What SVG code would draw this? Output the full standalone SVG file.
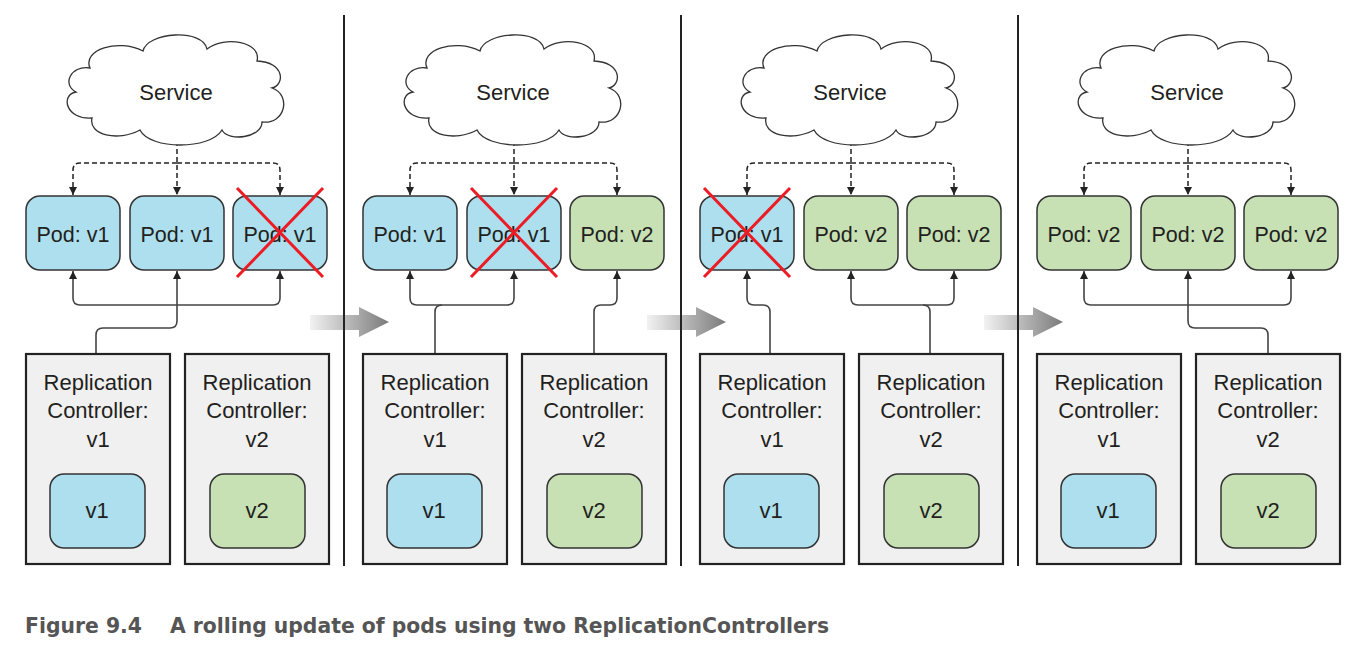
<svg xmlns="http://www.w3.org/2000/svg" width="1350" height="648" viewBox="0 0 1350 648">
<style>
.t{font-family:"Liberation Sans",Arial,sans-serif;font-size:22px;fill:#231f20;text-anchor:middle}
.p{font-size:21.5px}
.cloud{fill:#fff;stroke:#333;stroke-width:1.3}
.pod1{fill:#addfee;stroke:#333;stroke-width:1.5}
.pod2{fill:#c7e1b5;stroke:#333;stroke-width:1.5}
.rc{fill:#f0f0f0;stroke:#222;stroke-width:2.2}
.x{stroke:#ed1c24;stroke-width:3;fill:none}
.dash{fill:none;stroke:#222;stroke-width:1.5;stroke-dasharray:5 3}
.sol{fill:none;stroke:#444;stroke-width:1.6}
.sep{stroke:#222;stroke-width:2}
.cap{font-family:"Liberation Sans Narrow","DejaVu Sans Condensed","Liberation Sans",sans-serif;font-weight:bold;font-size:22px;fill:#555}
</style>
<defs>
<marker id="ah" viewBox="0 0 10 10" refX="10" refY="5" markerWidth="8" markerHeight="8" markerUnits="userSpaceOnUse" orient="auto">
<path d="M0,0 L10,5 L0,10 Z" fill="#222"/>
</marker>
<linearGradient id="ga" x1="0" y1="0" x2="1" y2="0">
<stop offset="0" stop-color="#f2f2f2"/>
<stop offset="1" stop-color="#7a7a7a"/>
</linearGradient>
<path id="cloudp" d="M90,68 C82,50 118,38 143,51 C147,32 203,28 207,49 C225,35 262,42 257,61 C285,62 285,85 272,88 C292,95 285,125 262,122 C262,138 228,142 222,130 C210,150 150,150 140,130 C118,142 88,135 92,118 C66,120 60,95 76,92 C62,85 70,65 90,68 Z"/>
<polygon id="garrow" points="310,315 359,315 359,307 389,322 359,337 359,330 310,330" fill="url(#ga)"/>
</defs>

<!-- gray transition arrows -->
<g id="transitions">
<use href="#garrow"/>
<use href="#garrow" x="337"/>
<use href="#garrow" x="674"/>
</g>

<!-- separators -->
<g id="separators">
<line class="sep" x1="344" y1="15" x2="344" y2="566"/>
<line class="sep" x1="681" y1="15" x2="681" y2="566"/>
<line class="sep" x1="1018" y1="15" x2="1018" y2="566"/>
</g>

<!-- connectors -->
<g id="connectors">
<g transform="translate(0,0)">
<path class="dash" d="M177,141 V195" marker-end="url(#ah)"/>
<path class="dash" d="M177,163 H80 Q73,163 73,170 V195" marker-end="url(#ah)"/>
<path class="dash" d="M177,163 H273 Q280,163 280,170 V195" marker-end="url(#ah)"/>
<path class="sol" d="M177,305 H80 Q73,305 73,298 V271" marker-end="url(#ah)"/>
<path class="sol" d="M177,305 H273 Q280,305 280,298 V271" marker-end="url(#ah)"/>
<path class="sol" d="M96,353 V335 Q96,328 103,328 H170 Q177,328 177,321 V271" marker-end="url(#ah)"/>
</g>
<g transform="translate(337,0)">
<path class="dash" d="M177,141 V195" marker-end="url(#ah)"/>
<path class="dash" d="M177,163 H80 Q73,163 73,170 V195" marker-end="url(#ah)"/>
<path class="dash" d="M177,163 H273 Q280,163 280,170 V195" marker-end="url(#ah)"/>
<path class="sol" d="M98,305 H80 Q73,305 73,298 V271" marker-end="url(#ah)"/>
<path class="sol" d="M98,305 H170 Q177,305 177,298 V271" marker-end="url(#ah)"/>
<path class="sol" d="M98,353 V312 Q98,305 105,305"/>
<path class="sol" d="M257,353 V312 Q257,305 264,305 H273 Q280,305 280,298 V271" marker-end="url(#ah)"/>
</g>
<g transform="translate(674,0)">
<path class="dash" d="M177,141 V195" marker-end="url(#ah)"/>
<path class="dash" d="M177,163 H80 Q73,163 73,170 V195" marker-end="url(#ah)"/>
<path class="dash" d="M177,163 H273 Q280,163 280,170 V195" marker-end="url(#ah)"/>
<path class="sol" d="M96,353 V312 Q96,305 89,305 H80 Q73,305 73,298 V271" marker-end="url(#ah)"/>
<path class="sol" d="M256,305 H184 Q177,305 177,298 V271" marker-end="url(#ah)"/>
<path class="sol" d="M256,305 H273 Q280,305 280,298 V271" marker-end="url(#ah)"/>
<path class="sol" d="M256,353 V312 Q256,305 249,305"/>
</g>
<g transform="translate(1011,0)">
<path class="dash" d="M177,141 V195" marker-end="url(#ah)"/>
<path class="dash" d="M177,163 H80 Q73,163 73,170 V195" marker-end="url(#ah)"/>
<path class="dash" d="M177,163 H273 Q280,163 280,170 V195" marker-end="url(#ah)"/>
<path class="sol" d="M177,305 H80 Q73,305 73,298 V271" marker-end="url(#ah)"/>
<path class="sol" d="M177,305 H273 Q280,305 280,298 V271" marker-end="url(#ah)"/>
<path class="sol" d="M257,353 V335 Q257,328 250,328 H184 Q177,328 177,321 V271" marker-end="url(#ah)"/>
</g>
</g>

<!-- Panel 1 -->
<g id="p1-service"><use href="#cloudp" class="cloud"/><text class="t" x="176" y="100">Service</text></g>
<g id="p1-pod1"><rect class="pod1" x="26" y="196" width="94" height="74" rx="14"/><text class="t p" x="73" y="242">Pod: v1</text></g>
<g id="p1-pod2"><rect class="pod1" x="130" y="196" width="94" height="74" rx="14"/><text class="t p" x="177" y="242">Pod: v1</text></g>
<g id="p1-pod3"><rect class="pod1" x="233" y="196" width="94" height="74" rx="14"/><text class="t p" x="280" y="242">Pod: v1</text><path class="x" d="M237,188 L323,277 M323,188 L237,277"/></g>
<g id="p1-rc1"><rect class="rc" x="26" y="354" width="144" height="210"/><text class="t" x="98" y="390">Replication</text><text class="t" x="98" y="418">Controller:</text><text class="t" x="98" y="447">v1</text><rect class="pod1" x="50" y="474" width="95" height="74" rx="14"/><text class="t" x="97" y="518">v1</text></g>
<g id="p1-rc2"><rect class="rc" x="185" y="354" width="144" height="210"/><text class="t" x="257" y="390">Replication</text><text class="t" x="257" y="418">Controller:</text><text class="t" x="257" y="447">v2</text><rect class="pod2" x="210" y="474" width="95" height="74" rx="14"/><text class="t" x="257" y="518">v2</text></g>

<!-- Panel 2 -->
<g id="p2-service" transform="translate(337,0)"><use href="#cloudp" class="cloud"/><text class="t" x="176" y="100">Service</text></g>
<g id="p2-pod1" transform="translate(337,0)"><rect class="pod1" x="26" y="196" width="94" height="74" rx="14"/><text class="t p" x="73" y="242">Pod: v1</text></g>
<g id="p2-pod2" transform="translate(337,0)"><rect class="pod1" x="130" y="196" width="94" height="74" rx="14"/><text class="t p" x="177" y="242">Pod: v1</text><path class="x" d="M134,188 L220,277 M220,188 L134,277"/></g>
<g id="p2-pod3" transform="translate(337,0)"><rect class="pod2" x="233" y="196" width="94" height="74" rx="14"/><text class="t p" x="280" y="242">Pod: v2</text></g>
<g id="p2-rc1" transform="translate(337,0)"><rect class="rc" x="26" y="354" width="144" height="210"/><text class="t" x="98" y="390">Replication</text><text class="t" x="98" y="418">Controller:</text><text class="t" x="98" y="447">v1</text><rect class="pod1" x="50" y="474" width="95" height="74" rx="14"/><text class="t" x="97" y="518">v1</text></g>
<g id="p2-rc2" transform="translate(337,0)"><rect class="rc" x="185" y="354" width="144" height="210"/><text class="t" x="257" y="390">Replication</text><text class="t" x="257" y="418">Controller:</text><text class="t" x="257" y="447">v2</text><rect class="pod2" x="210" y="474" width="95" height="74" rx="14"/><text class="t" x="257" y="518">v2</text></g>

<!-- Panel 3 -->
<g id="p3-service" transform="translate(674,0)"><use href="#cloudp" class="cloud"/><text class="t" x="176" y="100">Service</text></g>
<g id="p3-pod1" transform="translate(674,0)"><rect class="pod1" x="26" y="196" width="94" height="74" rx="14"/><text class="t p" x="73" y="242">Pod: v1</text><path class="x" d="M30,188 L116,277 M116,188 L30,277"/></g>
<g id="p3-pod2" transform="translate(674,0)"><rect class="pod2" x="130" y="196" width="94" height="74" rx="14"/><text class="t p" x="177" y="242">Pod: v2</text></g>
<g id="p3-pod3" transform="translate(674,0)"><rect class="pod2" x="233" y="196" width="94" height="74" rx="14"/><text class="t p" x="280" y="242">Pod: v2</text></g>
<g id="p3-rc1" transform="translate(674,0)"><rect class="rc" x="26" y="354" width="144" height="210"/><text class="t" x="98" y="390">Replication</text><text class="t" x="98" y="418">Controller:</text><text class="t" x="98" y="447">v1</text><rect class="pod1" x="50" y="474" width="95" height="74" rx="14"/><text class="t" x="97" y="518">v1</text></g>
<g id="p3-rc2" transform="translate(674,0)"><rect class="rc" x="185" y="354" width="144" height="210"/><text class="t" x="257" y="390">Replication</text><text class="t" x="257" y="418">Controller:</text><text class="t" x="257" y="447">v2</text><rect class="pod2" x="210" y="474" width="95" height="74" rx="14"/><text class="t" x="257" y="518">v2</text></g>

<!-- Panel 4 -->
<g id="p4-service" transform="translate(1011,0)"><use href="#cloudp" class="cloud"/><text class="t" x="176" y="100">Service</text></g>
<g id="p4-pod1" transform="translate(1011,0)"><rect class="pod2" x="26" y="196" width="94" height="74" rx="14"/><text class="t p" x="73" y="242">Pod: v2</text></g>
<g id="p4-pod2" transform="translate(1011,0)"><rect class="pod2" x="130" y="196" width="94" height="74" rx="14"/><text class="t p" x="177" y="242">Pod: v2</text></g>
<g id="p4-pod3" transform="translate(1011,0)"><rect class="pod2" x="233" y="196" width="94" height="74" rx="14"/><text class="t p" x="280" y="242">Pod: v2</text></g>
<g id="p4-rc1" transform="translate(1011,0)"><rect class="rc" x="26" y="354" width="144" height="210"/><text class="t" x="98" y="390">Replication</text><text class="t" x="98" y="418">Controller:</text><text class="t" x="98" y="447">v1</text><rect class="pod1" x="50" y="474" width="95" height="74" rx="14"/><text class="t" x="97" y="518">v1</text></g>
<g id="p4-rc2" transform="translate(1011,0)"><rect class="rc" x="185" y="354" width="144" height="210"/><text class="t" x="257" y="390">Replication</text><text class="t" x="257" y="418">Controller:</text><text class="t" x="257" y="447">v2</text><rect class="pod2" x="210" y="474" width="95" height="74" rx="14"/><text class="t" x="257" y="518">v2</text></g>

<!-- caption -->
<g id="caption">
<text class="cap" x="25" y="633" textLength="117" lengthAdjust="spacingAndGlyphs">Figure 9.4</text>
<text class="cap" x="170" y="633" textLength="659" lengthAdjust="spacingAndGlyphs">A rolling update of pods using two ReplicationControllers</text>
</g>
</svg>
